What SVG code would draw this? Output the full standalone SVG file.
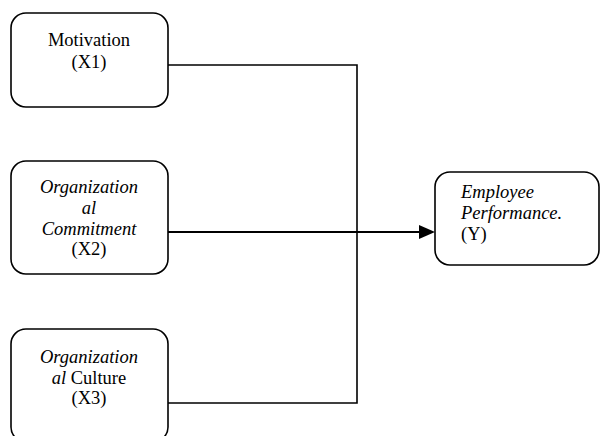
<svg xmlns="http://www.w3.org/2000/svg" width="601" height="436" viewBox="0 0 601 436">
<style>
.box{fill:#fff;stroke:#000;stroke-width:1.6}
.t{font-family:'Liberation Serif','Times New Roman','DejaVu Serif',serif;font-size:18.5px;fill:#000}
.c{text-anchor:middle}
.i{font-style:italic}
.ln{fill:none;stroke:#000;stroke-width:1.6}
</style>
<rect width="601" height="436" fill="#fff"/>
<g id="connectors">
<polyline class="ln" points="168,65 357,65 357,403 168,403"/>
<line class="ln" x1="168" y1="232" x2="420" y2="232" style="stroke-width:2.2"/>
<polygon points="419,225 435,232 419,239" fill="#000"/>
</g>
<g id="motivation">
<rect class="box" x="11" y="13" width="157" height="94" rx="15"/>
<text class="t c" x="89" y="46">Motivation</text>
<text class="t c" x="89" y="68">(X1)</text>
</g>
<g id="commitment">
<rect class="box" x="11" y="161" width="157" height="113" rx="15"/>
<text class="t c i" x="89" y="193">Organization</text>
<text class="t c i" x="89" y="214">al</text>
<text class="t c i" x="89" y="235">Commitment</text>
<text class="t c" x="89" y="255">(X2)</text>
</g>
<g id="culture">
<rect class="box" x="11" y="329" width="157" height="113" rx="15"/>
<text class="t c i" x="89" y="363">Organization</text>
<text class="t c" x="89" y="384"><tspan class="i">al</tspan> Culture</text>
<text class="t c" x="89" y="404">(X3)</text>
</g>
<g id="performance">
<rect class="box" x="435" y="172" width="164" height="93" rx="15"/>
<text class="t i" x="461" y="198">Employee</text>
<text class="t i" x="461" y="219">Performance.</text>
<text class="t" x="461" y="240">(Y)</text>
</g>
</svg>
